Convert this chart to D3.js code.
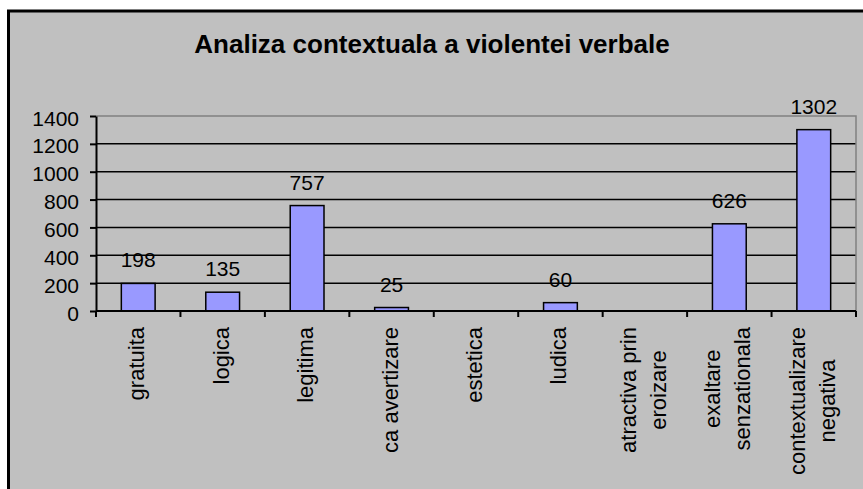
<!DOCTYPE html>
<html>
<head>
<meta charset="utf-8">
<script src="https://cdn.jsdelivr.net/npm/d3@7"></script>
<style>
  body { margin: 0; background: #fff; }
  text { font-family: "Liberation Sans", Arial, sans-serif; fill: #000; }
</style>
</head>
<body>
<svg width="863" height="489"></svg>
<script>
// chart data
const title = 'Analiza contextuala a violentei verbale';
const categories = ['gratuita', 'logica', 'legitima', 'ca avertizare', 'estetica', 'ludica',
  'atractiva prin eroizare', 'exaltare senzationala', 'contextualizare negativa'];
const values = [198, 135, 757, 25, null, 60, null, 626, 1302];
const yTicks = [0, 200, 400, 600, 800, 1000, 1200, 1400];

const svg = d3.select('svg');

// chart area (gray background with black frame, cut off at right/bottom)
svg.append('rect')
  .attr('x', 8.5).attr('y', 11)
  .attr('width', 900).attr('height', 520)
  .attr('fill', '#c0c0c0')
  .attr('stroke', '#000')
  .attr('stroke-width', 3);

svg.append('text')
  .attr('x', 432).attr('y', 53)
  .attr('text-anchor', 'middle')
  .style('font-size', '26px')
  .style('font-weight', 'bold')
  .text(title);

const plotL = 96, plotR = 856, plotT = 116, plotB = 311;

const x = d3.scaleBand()
  .domain(categories)
  .range([plotL, plotR])
  .paddingInner(0.6)
  .paddingOuter(0.3);

const y = d3.scaleLinear()
  .domain([0, 1400])
  .range([plotB, plotT]);

// gridlines
svg.append('g').selectAll('line')
  .data(yTicks.filter(t => t > 0 && t < 1400))
  .enter().append('line')
  .attr('x1', plotL).attr('x2', plotR)
  .attr('y1', d => y(d)).attr('y2', d => y(d))
  .attr('stroke', '#000')
  .attr('stroke-width', 1.5);

// plot area border (top + right, gray)
svg.append('path')
  .attr('d', `M${plotL},${y(1400)}H${plotR}V${y(0)}`)
  .attr('fill', 'none')
  .attr('stroke', '#808080')
  .attr('stroke-width', 1.5);

// bars
const data = categories.map((c, i) => ({ cat: c, val: values[i] }));
svg.append('g').selectAll('rect')
  .data(data.filter(d => d.val != null))
  .enter().append('rect')
  .attr('x', d => x(d.cat))
  .attr('y', d => y(d.val))
  .attr('width', x.bandwidth())
  .attr('height', d => y(0) - y(d.val))
  .attr('fill', '#9999ff')
  .attr('stroke', '#000')
  .attr('stroke-width', 1.5);

// value labels
svg.append('g').selectAll('text')
  .data(data.filter(d => d.val != null))
  .enter().append('text')
  .attr('x', d => x(d.cat) + x.bandwidth() / 2)
  .attr('y', d => y(d.val) - 16)
  .attr('text-anchor', 'middle')
  .style('font-size', '21px')
  .text(d => d.val);

// y axis
const yAxis = svg.append('g')
  .attr('transform', `translate(${plotL},0)`)
  .call(d3.axisLeft(y).tickValues(yTicks).tickFormat(d3.format('d'))
    .tickSize(6).tickPadding(11).tickSizeOuter(0));
yAxis.select('.domain').attr('stroke', '#000').attr('stroke-width', 2);
yAxis.selectAll('.tick line').attr('stroke', '#000').attr('stroke-width', 2);
yAxis.selectAll('.tick text')
  .attr('dy', '0.43em')
  .style('font-size', '21px')
  .style('font-family', '"Liberation Sans", Arial, sans-serif');

// x axis line + ticks at category boundaries
const gap = x.step() - x.bandwidth();
const bounds = categories.map(c => x(c) - gap / 2).concat([plotR]);
svg.append('line')
  .attr('x1', plotL).attr('x2', plotR)
  .attr('y1', y(0)).attr('y2', y(0))
  .attr('stroke', '#000').attr('stroke-width', 2);
svg.append('g').selectAll('line')
  .data(bounds)
  .enter().append('line')
  .attr('x1', d => d).attr('x2', d => d)
  .attr('y1', y(0)).attr('y2', y(0) + 6)
  .attr('stroke', '#000').attr('stroke-width', 2);

// category labels, rotated and word-wrapped
const maxLine = 160;
const labels = svg.append('g').selectAll('g')
  .data(categories)
  .enter().append('g')
  .attr('transform', d => `translate(${x(d) + x.bandwidth() / 2},${plotB + 16}) rotate(-90)`);

labels.each(function (label) {
  const g = d3.select(this);
  const probe = g.append('text').style('font-size', '22px');
  const words = label.split(' ');
  const lines = [];
  let cur = '';
  words.forEach(w => {
    const test = cur ? cur + ' ' + w : w;
    probe.text(test);
    if (cur && probe.node().getComputedTextLength() > maxLine) {
      lines.push(cur);
      cur = w;
    } else {
      cur = test;
    }
  });
  lines.push(cur);
  const widths = lines.map(l => { probe.text(l); return probe.node().getComputedTextLength(); });
  probe.remove();
  const maxW = d3.max(widths);
  lines.forEach((l, i) => {
    g.append('text')
      .attr('x', -maxW / 2)
      .attr('y', 6 + (i - (lines.length - 1) / 2) * 30)
      .attr('text-anchor', 'middle')
      .style('font-size', '22px')
      .text(l);
  });
});
</script>
</body>
</html>
